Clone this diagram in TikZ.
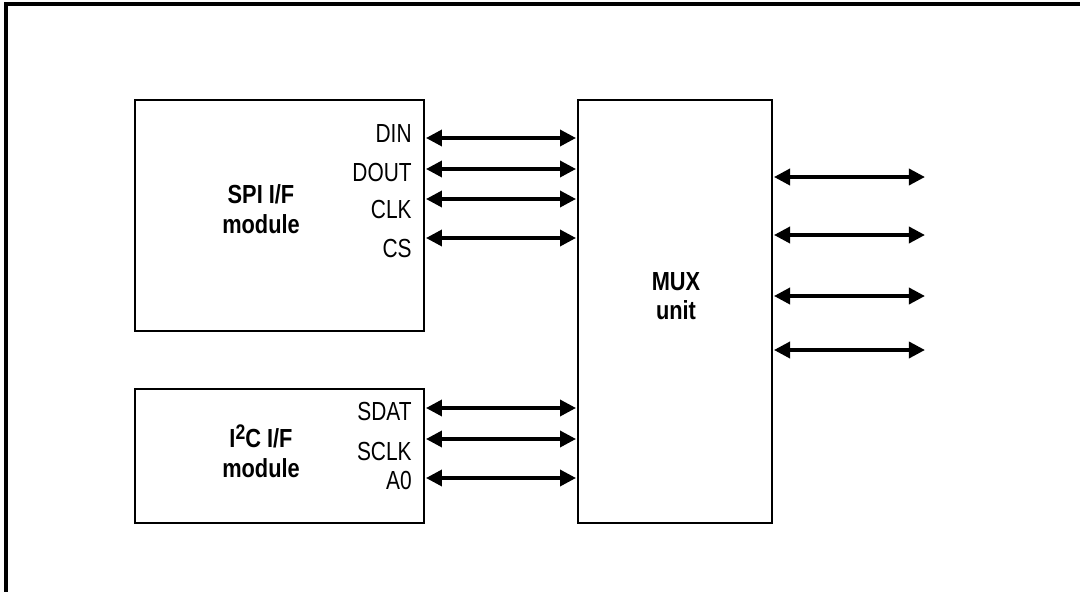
\documentclass[tikz,border=0pt]{standalone}
\usepackage{fontspec}
\setmainfont{Liberation Sans}
\usepackage{tikz}
\usetikzlibrary{arrows.meta,positioning}

\begin{document}
\begin{tikzpicture}[x=0.02cm, y=-0.02cm,
    % ---------- styles ----------
    frame/.style={line width=2.2pt, line cap=rect},
    blk/.style={draw, line width=1.1pt, inner sep=0pt},
    ttl/.style={font=\fontsize{12.4}{14}\selectfont\bfseries, align=center,
      yscale=1.2, transform shape},
    sig/.style={font=\fontsize{11.9}{14}\selectfont, anchor=east,
      inner sep=0pt, yscale=1.25, transform shape},
    bus/.style={{Triangle[length=0.32cm, width=0.32cm]}-{Triangle[length=0.32cm, width=0.32cm]},
      line width=2pt, shorten <=0.6pt, shorten >=0.6pt}
]
\useasboundingbox (0,0) rectangle (1080,592);

\def\lblX{412}

% ====== Outer frame ======
\draw[frame] (1080,4) -- (6,4) -- (6,592);

% ====== Blocks ======
\node[blk, minimum width=5.78cm, minimum height=4.62cm] (spi) at (279.5,215.5) {};
\node[blk, minimum width=5.78cm, minimum height=2.68cm] (i2c) at (279.5,456) {};
\node[blk, minimum width=3.88cm, minimum height=8.46cm] (mux) at (675,311.5) {};

\node[ttl] (spitxt) at (261,209) {SPI I/F\\module};
\node[ttl] (i2ctxt) at (261,451) {I\raisebox{0.6ex}{\fontsize{10}{10}\selectfont 2}C I/F\\module};
\node[ttl] (muxtxt) at (676,296) {MUX\\unit};

% ====== SPI signals ======
\foreach \s/\ly/\ay in {DIN/134/138, DOUT/173/169, CLK/210/199, CS/248/238} {
    \node[sig] (lbl-\s) at (\lblX,\ly) {\s};
    \coordinate (in-\s) at (0,\ay);
    \draw[bus] (spi.east |- in-\s) -- (mux.west |- in-\s);
}

% ====== I2C signals ======
\foreach \s/\ly/\ay in {SDAT/411/408, SCLK/451/439, A0/480/478} {
    \node[sig] (lbl-\s) at (\lblX,\ly) {\s};
    \coordinate (in-\s) at (0,\ay);
    \draw[bus] (i2c.east |- in-\s) -- (mux.west |- in-\s);
}

% ====== MUX outputs ======
\foreach \i/\ay in {1/177, 2/235, 3/296, 4/350} {
    \coordinate (out\i) at (926,\ay);
    \draw[bus] (mux.east |- out\i) -- (out\i);
}

\end{tikzpicture}
\end{document}
